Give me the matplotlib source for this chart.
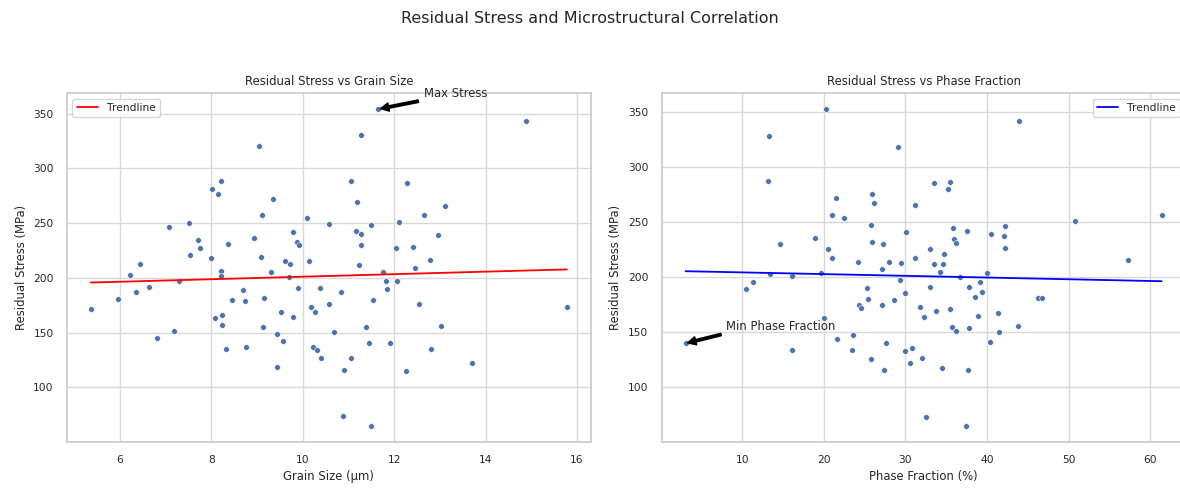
import matplotlib
matplotlib.use("Agg")
import matplotlib.pyplot as plt
import seaborn as sns
import numpy as np

# ---------------------------------------------------------
# DATA
# ---------------------------------------------------------
grain_size = [
    9.03, 8.20, 8.02, 8.15, 9.35, 9.10, 10.10, 7.08, 7.50, 7.70, 7.76, 7.54,
    7.98, 8.37, 8.94, 9.08, 9.78, 9.87, 9.91, 9.60, 9.73, 10.13, 6.44, 10.57,
    11.65, 14.88, 11.27, 11.05, 12.28, 11.19, 13.12, 12.66, 12.11, 11.49,
    11.16, 11.27, 11.27, 12.95, 12.04, 12.42, 12.79, 11.23, 12.46,
    6.22, 8.20, 8.22, 9.30, 7.30, 9.69, 6.35, 6.64, 5.96, 5.36, 8.70, 8.46,
    8.73, 9.14, 9.90, 10.37, 10.57, 10.18, 10.26, 9.52, 9.78, 8.07, 8.24,
    8.24, 9.12, 7.19, 6.81, 9.43, 9.56, 8.31, 8.75, 10.22, 10.31, 10.40, 9.43,
    11.76, 11.82, 12.07, 11.85, 10.84, 11.54, 12.55, 15.78, 10.68, 11.38,
    13.03, 11.45, 11.91, 12.81, 11.05, 10.90, 12.26, 13.71, 10.88, 11.49,
]
stress_gs = [
    320, 288, 281, 277, 272, 257, 255, 246, 250, 235, 227, 221,
    218, 231, 236, 219, 242, 233, 230, 215, 213, 215, 213, 249,
    354, 343, 330, 288, 287, 269, 266, 257, 251, 248,
    243, 240, 230, 239, 227, 228, 216, 212, 209,
    203, 206, 202, 205, 197, 201, 187, 192, 181, 172, 189, 180,
    179, 182, 191, 191, 176, 173, 169, 169, 164, 163, 166,
    157, 155, 152, 145, 149, 142, 135, 137, 137, 134, 127, 119,
    205, 197, 197, 190, 187, 180, 176, 173, 151, 155,
    156, 141, 141, 135, 127, 116, 115, 122, 74, 65,
]

phase_fraction = [
    20.25, 13.27, 29.14, 13.15, 25.94, 26.19, 21.44, 31.15, 21.02, 22.46,
    25.74, 30.09, 18.86, 14.67, 25.94, 27.30, 20.49, 20.95, 24.22, 28.00,
    29.43, 31.15, 33.00, 27.10,
    43.95, 33.49, 35.50, 35.17, 61.41, 50.84, 42.23, 35.78, 37.55, 40.50,
    42.06, 35.90, 36.15, 42.18, 34.76, 33.44, 34.60, 57.30,
    13.36, 16.03, 19.59, 29.35, 11.30, 10.40, 25.25, 25.41, 24.35, 24.59,
    27.13, 28.60, 30.00, 31.72, 32.22, 33.04, 20.00, 21.56, 23.60, 23.40,
    16.06, 25.74, 27.63, 27.38, 30.00, 30.82, 30.58, 32.05, 32.46, 3.03,
    34.18, 36.64, 40.01, 39.19, 37.80, 39.43, 38.53, 46.30, 46.80, 33.70,
    35.50, 38.94, 41.40, 35.66, 36.15, 37.80, 41.49, 43.78, 40.33, 34.43,
    37.63, 37.38,
]
stress_pf = [
    353, 329, 319, 288, 276, 268, 272, 266, 257, 254,
    248, 241, 236, 230, 232, 230, 226, 218, 214, 214,
    213, 218, 226, 208,
    342, 286, 287, 280, 257, 251, 247, 245, 242, 239,
    238, 235, 231, 227, 221, 212, 212, 216,
    203, 201, 204, 198, 196, 189, 190, 180, 175, 172,
    175, 179, 186, 173, 164, 191, 163, 144, 148, 134,
    134, 126, 140, 116, 133, 136, 122, 127, 73, 140,
    205, 200, 204, 196, 191, 187, 182, 181, 181, 169,
    171, 165, 168, 155, 151, 154, 150, 156, 141, 118,
    116, 65,
]

# ---------------------------------------------------------
# STYLE
# ---------------------------------------------------------
sns.set_theme(style="whitegrid")
plt.rcParams["font.family"] = ["DejaVu Sans"]
plt.rcParams["grid.color"] = "0.85"

tick_fs  = 7.7
label_fs = 8.4
title_fs = 8.4
point_color = "#4c72b0"
arrow_props = dict(facecolor="black", edgecolor="black", shrink=0.05,
                   width=1.8, headwidth=6, headlength=6)

fig = plt.figure(figsize=(11.8, 4.9), dpi=100)
ax1 = fig.add_axes([0.0568, 0.0986, 0.4438, 0.711])
ax2 = fig.add_axes([0.5608, 0.0986, 0.4438, 0.711])


def trend(x, y):
    x = np.asarray(x, dtype=float)
    y = np.asarray(y, dtype=float)
    coef = np.polyfit(x, y, 1)
    xs = np.sort(x)
    return xs, np.polyval(coef, xs)


# -----------------------------
# PANEL 1 — GRAIN SIZE
# -----------------------------
ax1.scatter(grain_size, stress_gs, s=17, color=point_color,
            edgecolor="white", linewidth=0.4, zorder=3)
xs, ys = trend(grain_size, stress_gs)
ax1.plot(xs, ys, color="red", linewidth=1.3, label="Trendline", zorder=4)

i_max = int(np.argmax(stress_gs))
ax1.annotate("Max Stress",
             xy=(grain_size[i_max], stress_gs[i_max]),
             xytext=(grain_size[i_max] + 1, stress_gs[i_max] + 11),
             fontsize=label_fs, color=".15", arrowprops=arrow_props)

ax1.set_title("Residual Stress vs Grain Size", fontsize=title_fs, color=".15")
ax1.set_xlabel("Grain Size (μm)", fontsize=label_fs)
ax1.set_ylabel("Residual Stress (MPa)", fontsize=label_fs)
ax1.tick_params(labelsize=tick_fs)
ax1.legend(loc="upper left", fontsize=tick_fs)

# -----------------------------
# PANEL 2 — PHASE FRACTION
# -----------------------------
ax2.scatter(phase_fraction, stress_pf, s=17, color=point_color,
            edgecolor="white", linewidth=0.4, zorder=3)
xs, ys = trend(phase_fraction, stress_pf)
ax2.plot(xs, ys, color="blue", linewidth=1.3, label="Trendline", zorder=4)

i_min = int(np.argmin(phase_fraction))
ax2.annotate("Min Phase Fraction",
             xy=(phase_fraction[i_min], stress_pf[i_min]),
             xytext=(phase_fraction[i_min] + 5, stress_pf[i_min] + 12),
             fontsize=label_fs, color=".15", arrowprops=arrow_props)

ax2.set_title("Residual Stress vs Phase Fraction", fontsize=title_fs, color=".15")
ax2.set_xlabel("Phase Fraction (%)", fontsize=label_fs)
ax2.set_ylabel("Residual Stress (MPa)", fontsize=label_fs)
ax2.tick_params(labelsize=tick_fs)
ax2.legend(loc="upper right", fontsize=tick_fs)

# ---------------------------------------------------------
# TITLE + SAVE
# ---------------------------------------------------------
fig.suptitle("Residual Stress and Microstructural Correlation",
             fontsize=11.5, y=0.963, va="center", color=".15")

plt.savefig("out.png", dpi=100)
plt.close()
